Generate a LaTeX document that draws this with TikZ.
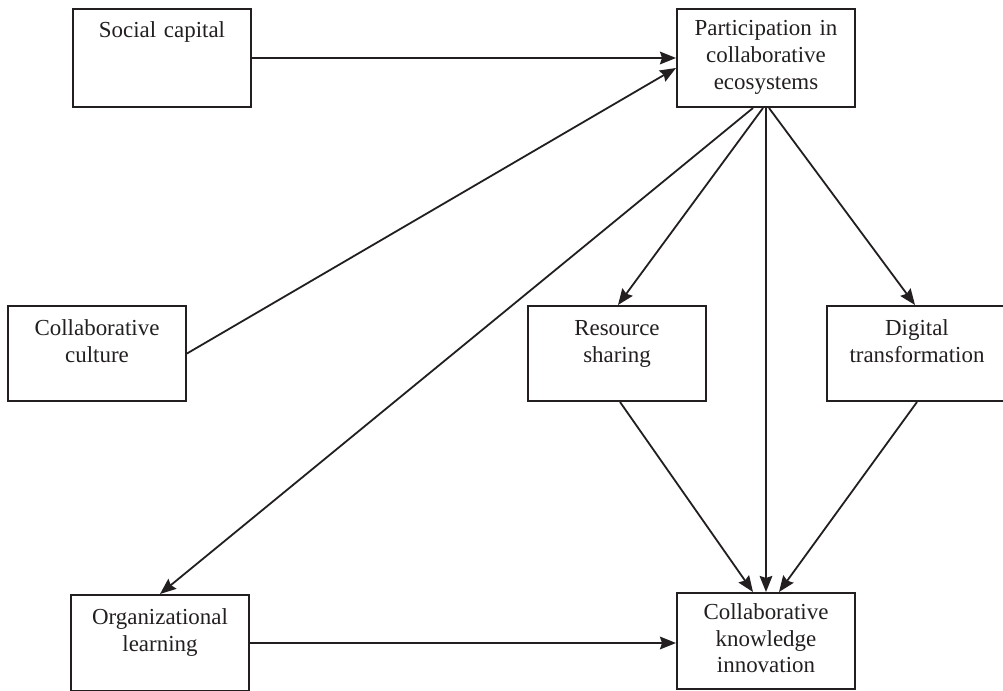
\documentclass[tikz,border=0pt]{standalone}
\usepackage{fontspec}
\setmainfont{Liberation Serif}
\usetikzlibrary{arrows.meta,calc}
\definecolor{ink}{RGB}{35,31,32}
\begin{document}
\begin{tikzpicture}[x=0.75pt,y=-0.75pt,
  box/.style={draw=ink,line width=1.5pt,minimum width=133.5pt,minimum height=72pt,inner sep=0pt,fill=white},
  lbl/.style={anchor=base,text=ink,font=\fontsize{17.2}{20}\selectfont,text width=132pt,align=center,inner sep=0pt},
  arr/.style={draw=ink,line width=1.35pt,-{Stealth[length=12pt,width=9.5pt,inset=1.5pt]}}]
\useasboundingbox (0,0) rectangle (1003,691);
\clip (0,0) rectangle (1003,691);
\fill[white] (0,0) rectangle (1003,691);

% boxes
\node[box,minimum height=73.5pt] (sc) at (162,58) {};
\node[box,minimum height=73.5pt] (pe) at (766,58) {};
\node[box,minimum height=71.25pt] (cc) at (97,353.5) {};
\node[box,minimum height=71.25pt] (rs) at (617,353.5) {};
\node[box,minimum height=71.25pt,minimum width=139.5pt] (dt) at (920,353.5) {};
\node[box,minimum height=72pt] (ol) at (160,643) {};
\node[box,minimum height=72pt] (ki) at (766,641) {};

% labels
\node[lbl] (sc-t) at ([yshift=-22.5pt]sc.north) {Social capital};
\node[lbl] (pe-t) at ([yshift=-21pt]pe.north) {Participation in\\collaborative\\ecosystems};
\node[lbl] (cc-t) at ([yshift=-23pt]cc.north) {Collaborative\\culture};
\node[lbl] (rs-t) at ([yshift=-23pt]rs.north) {Resource\\sharing};
\node[lbl] (dt-t) at ([xshift=-2.25pt,yshift=-23pt]dt.north) {Digital\\transformation};
\node[lbl] (ol-t) at ([yshift=-23pt]ol.north) {Organizational\\learning};
\node[lbl] (ki-t) at ([yshift=-20.5pt]ki.north) {Collaborative\\knowledge\\innovation};

% connectors
\draw[arr] (sc.east) -- (pe.west);
\draw[arr] (cc.east) -- ([yshift=-7.5pt]pe.west);
\draw[arr] ([xshift=-9.75pt]pe.south) -- (ol.north);
\draw[arr] ([xshift=-2.25pt]pe.south) -- ([xshift=0.75pt]rs.north);
\draw[arr] (pe.south) -- (ki.north);
\draw[arr] ([xshift=2.25pt]pe.south) -- ([xshift=-3.75pt]dt.north);
\draw[arr] ([xshift=2.25pt]rs.south) -- ([xshift=-9.75pt]ki.north);
\draw[arr] ([xshift=-2.25pt]dt.south) -- ([xshift=9.75pt]ki.north);
\draw[arr] (ol.east) -- (ol.east -| ki.west);
\end{tikzpicture}
\end{document}
